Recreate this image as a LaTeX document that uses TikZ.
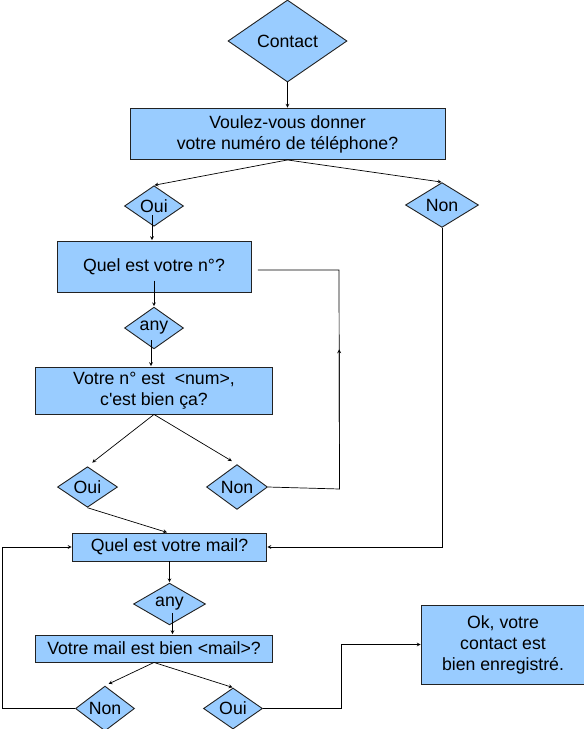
\documentclass[tikz,border=0pt]{standalone}
\usepackage{fontspec}
\setmainfont{Liberation Sans}
\usetikzlibrary{shapes.geometric,positioning,calc}
\definecolor{boxblue}{HTML}{99CCFF}
\definecolor{edge}{HTML}{222222}

\begin{document}
\begin{tikzpicture}[shorten >=0.5pt,on grid,auto,>=stealth,
  box/.style={rectangle,draw=edge,fill=boxblue,line width=0.9pt,align=center,inner sep=0pt},
  choice/.style={diamond,draw=edge,fill=boxblue,line width=0.9pt,inner sep=0pt},
  every node/.style={font=\fontsize{17.7}{21}\selectfont},
  link/.style={draw=black,line width=0.7pt}]
\useasboundingbox (0,0) rectangle (584pt,-729pt);
\node[choice,minimum width=119pt,minimum height=82pt](q_c) at (287.5pt,-41pt){Contact};
\node[box,minimum width=315pt,minimum height=51pt](q_t)[below=93pt of q_c]{Voulez-vous donner\\ votre numéro de téléphone?};
\node[choice,minimum width=59pt,minimum height=40pt](q_o1)[below=72pt of q_t,xshift=-133.5pt]{Oui};
\node[choice,minimum width=73pt,minimum height=40pt](q_n1)[below=71pt of q_t,xshift=154.5pt]{Non};
\node[box,minimum width=194pt,minimum height=51pt](q_p)[below=60.5pt of q_o1]{Quel est votre n°?};
\node[choice,minimum width=59pt,minimum height=40pt](q_a1)[below=61.5pt of q_p]{any};
\node[box,minimum width=237pt,minimum height=47pt](q_v)[below=62.5pt of q_a1]{Votre n° est \ <num>,\\ c\textquotesingle est bien ça?};
\node[choice,minimum width=60pt,minimum height=40pt](q_o2)[below=96.5pt of q_v,xshift=-66.5pt]{Oui};
\node[choice,minimum width=61pt,minimum height=40pt](q_n2)[below=96.5pt of q_v,xshift=83pt]{Non};
\node[box,minimum width=194pt,minimum height=28pt](q_m)[below=60pt of q_o2,xshift=82pt]{Quel est votre mail?};
\node[choice,minimum width=72pt,minimum height=34pt](q_a2)[below=57pt of q_m]{any};
\node[box,minimum width=237pt,minimum height=27pt](q_w)[below=44.5pt of q_a2,xshift=-15.5pt]{Votre mail est bien <mail>?};
\node[choice,minimum width=59pt,minimum height=41pt](q_n3)[below=60pt of q_w,xshift=-49pt]{Non};
\node[choice,minimum width=59pt,minimum height=41pt](q_o3)[below=60pt of q_w,xshift=79pt]{Oui};
\node[box,minimum width=163pt,minimum height=79pt](q_k)[right=349pt of q_w,yshift=4pt]{Ok, votre\\ contact est\\ bien enregistré.};
\node[coordinate](q_1)[right=102.5pt of q_n2,yshift=-2pt]{};
\node[coordinate](q_2)[right=185pt of q_p,yshift=-3.5pt]{};
\node[coordinate](q_3)[left=102.5pt of q_n3]{};
\node[coordinate](q_4)[right=108.5pt of q_o3]{};
\draw[link,->] (q_c.south) -- (q_t.north);
\draw[link,->] (q_t.south) -- (q_o1.north);
\draw[link,->] (q_t.south) -- (q_n1.north);
\draw[link,->] ([xshift=-2pt,yshift=-9pt]q_o1.center) -- ([xshift=-2pt]q_o1.center |- q_p.north);
\draw[link,->] ([yshift=-14pt]q_p.center) -- (q_a1.north);
\draw[link,->] ([xshift=-3pt,yshift=-12pt]q_a1.center) -- ([xshift=-3pt]q_a1.center |- q_v.north);
\draw[link,->,shorten >=6pt] (q_v.south) -- (q_o2.north);
\draw[link,->,shorten >=6pt] (q_v.south) -- (q_n2.north);
\draw[link] (q_n2.east) -- (q_1) -- (q_2) -- ([xshift=6pt]q_p.east |- q_2);
\draw[link,->] (q_1) -- ($(q_1)!0.64!(q_2)$);
\draw[link,->] (q_o2.south) -- ([xshift=-2pt]q_m.north);
\draw[link,->] (q_n1.south) |- (q_m.east);
\draw[link,->] (q_m.south) -- (q_a2.north);
\draw[link,->] ([xshift=3pt,yshift=-9pt]q_a2.center) -- ([xshift=3pt]q_a2.center |- q_w.north);
\draw[link,->,shorten >=4pt] (q_w.south) -- (q_n3.north);
\draw[link,->] (q_w.south) -- (q_o3.north);
\draw[link,->] (q_n3.west) -- (q_3) |- (q_m.west);
\draw[link,->] (q_o3.east) -- (q_4) |- (q_k.west);
\end{tikzpicture}
\end{document}
